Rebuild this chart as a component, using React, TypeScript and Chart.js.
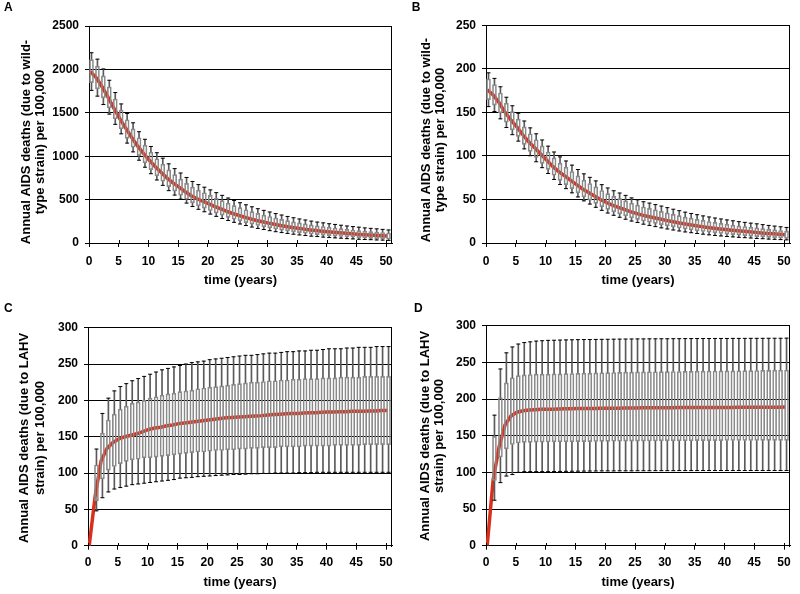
import React, { useEffect, useRef } from "react";
import { Chart, registerables } from "chart.js";

Chart.register(...registerables);

const FONT = "'Liberation Sans', Arial, Helvetica, sans-serif";

// ---------- shared data ----------
const YEARS = [0,1,2,3,4,5,6,7,8,9,10,11,12,13,14,15,16,17,18,19,20,21,22,23,24,25,26,27,28,29,30,31,32,33,34,35,36,37,38,39,40,41,42,43,44,45,46,47,48,49,50];
const X_TICKS = [0,5,10,15,20,25,30,35,40,45,50];
const X_MAX = 51;
const LINE_SHIFT = 0.2;
const BOX_SHIFT = 0.42;

// ---------- Panel A (wild-type, high) ----------
const A_Y_TICKS = [0,500,1000,1500,2000,2500];
const A_MEDIAN = [1975,1905,1800,1680,1550,1430,1320,1215,1115,1030,950,875,810,745,690,640,590,545,510,480,450,420,392,365,340,318,297,278,260,244,229,215,202,190,179,169,160,151,143,136,129,123,117,111,106,101,96,92,88,84,80];
const A_Q3 = [2113,2038,1926,1798,1659,1530,1420,1315,1213,1127,1045,971,907,842,787,736,687,642,608,579,549,517,488,458,431,407,383,361,341,322,305,288,272,257,244,232,220,209,198,190,181,173,165,157,150,143,137,131,126,121,115];
const A_Q1 = [1847,1775,1672,1556,1431,1316,1206,1103,1006,923,846,774,711,650,598,550,504,462,429,401,374,346,321,296,274,254,235,218,202,187,174,161,149,139,129,120,112,104,97,91,85,80,75,70,66,62,58,54,51,48,45];
const A_MAX = [2192,2118,2005,1875,1733,1602,1492,1385,1282,1195,1112,1040,977,912,857,806,755,709,673,643,612,580,549,518,490,464,440,417,395,376,357,339,322,306,291,277,265,252,241,232,222,214,205,196,189,182,174,169,163,157,150];
const A_MIN = [1758,1692,1595,1485,1367,1258,1151,1050,954,873,798,726,664,603,552,506,460,420,388,360,333,307,282,259,238,219,201,184,168,155,142,130,120,110,101,93,86,79,74,68,63,59,55,50,47,43,40,38,35,33,30];

// ---------- Panel B (wild-type, low) ----------
const B_Y_TICKS = [0,50,100,150,200,250];
const B_MEDIAN = [176,170,161,150,141,133,124,116,109,102,95,88,82,77,72,67,62,58,54,50,46.5,43.5,41,38.5,36,34,32,30.5,29,27.5,26,24.6,23.3,22,20.9,19.8,18.8,17.9,17,16.2,15.4,14.7,14,13.4,12.8,12.2,11.6,11,10.5,10,9.5];
const B_Q3 = [188.3,181.9,172.3,160.5,150.9,142.3,133.4,125.5,118.6,111.6,104.5,97.7,91.8,87,82.1,77.1,72.2,68.3,64.4,60.3,56.7,53.6,51,48.4,45.6,43.5,41.3,39.7,38,36.3,34.6,32.9,31.4,29.8,28.5,27.1,25.9,24.7,23.6,22.6,21.6,20.6,19.7,18.9,18.1,17.3,16.5,15.7,15,14.4,13.7];
const B_Q1 = [164.6,158.4,149.6,138.9,130.1,122.4,113.3,105.3,98.3,91.4,84.6,77.8,72,67.1,62.4,57.6,52.9,49.2,45.5,41.8,38.6,35.8,33.5,31.3,29,27.2,25.3,23.9,22.5,21.1,19.8,18.5,17.2,16.1,15,14.1,13.2,12.4,11.6,10.9,10.2,9.6,9,8.4,7.9,7.4,7,6.5,6.1,5.7,5.3];
const B_MAX = [195.4,189,179.4,167.4,157.6,149,140.1,132.2,125.4,118.3,111.2,104.5,98.9,94.2,89.4,84.4,79.4,75.4,71.3,67,63.2,60,57.4,54.7,51.8,49.6,47.4,45.8,44.1,42.4,40.6,38.8,37.1,35.4,33.9,32.5,31.1,29.9,28.7,27.6,26.5,25.5,24.5,23.7,22.8,22,21.1,20.2,19.4,18.6,17.9];
const B_MIN = [156.6,151,142.6,132.6,124.4,117,108.1,100.2,93.3,86.5,79.8,73,67.2,62.4,57.6,52.9,48.4,44.7,41,37.5,34.4,31.8,29.5,27.3,25.2,23.5,21.6,20.2,18.8,17.4,16.1,14.9,13.8,12.7,11.8,10.9,10.1,9.4,8.7,8.1,7.5,7,6.5,6.1,5.7,5.2,4.9,4.5,4.2,3.9,3.6];

// ---------- Panel C (LAHV) ----------
const C_Y_TICKS = [0,50,100,150,200,250,300];
const C_MEDIAN = [0,68,117,134,142,147,150,152,154,157,160,162,163,165,166,168,169,170,171,172,173,174,175,176,176.5,177,177.5,178,178.5,179,180,180.5,181,181.5,182,182,182.5,183,183,183.5,184,184,184.5,184.5,185,185,185,185.5,185.5,186,186];
const C_Q3 = [null,111,155,173,181,188,192,196,198,200,203,205,207,209,210,212,213,214,216,217,218,219,220,221,222,223,224,225,225,226,227,227,228,228,229,229,230,230,230,231,231,231,232,232,232,232,233,233,233,233,233];
const C_Q1 = [null,62,92,104,109,113,116,118,119,121,121,122,123,124,125,126,127,128,129,129,130,131,131,132,132,133,133,134,134,135,135,135,136,136,136,136,137,137,137,137,137,138,138,138,138,138,139,139,139,139,139];
const C_MAX = [null,133,182,203,213,219,223,227,230,233,236,239,242,244,246,248,250,252,253,254,256,257,258,259,260,261,262,262,263,264,265,265,266,267,267,268,268,269,269,270,271,271,271,272,272,273,273,273,274,274,274];
const C_MIN = [null,48,66,74,78,80,82,84,85,86,87,88,89,90,91,93,93.5,94,95,95.5,96,96.5,97,97.5,98,98,98.5,99,99,99.5,99.5,100,100,100,100,100.5,100.5,100.5,101,101,101,101,101,101,101,101,101,101,101,101,101];

// ---------- Panel D (LAHV) ----------
const D_Y_TICKS = [0,50,100,150,200,250,300];
const D_MEDIAN = [0,90,135,165,177,182,184,185,185.5,186,186,186.2,186.4,186.6,186.8,187,187,187.2,187.2,187.4,187.4,187.5,187.6,187.7,187.8,187.9,188,188,188,188.1,188.2,188.2,188.3,188.3,188.4,188.4,188.5,188.5,188.5,188.6,188.6,188.6,188.7,188.7,188.7,188.8,188.8,188.8,188.9,188.9,189];
const D_Q3 = [null,149,202,222,229,232,233,233.5,234,234,234,234.2,234.4,234.6,234.8,235,235.2,235.4,235.6,235.8,236,236.2,236.4,236.6,236.8,237,237,237.2,237.2,237.4,237.4,237.6,237.6,237.8,237.8,238,238,238.2,238.2,238.4,238.4,238.5,238.6,238.7,238.8,238.9,239,239,239.2,239.3,239.5];
const D_Q1 = [null,89,121,132,138,140,141,141,141.2,141.3,141.4,141.5,141.6,141.7,141.8,141.9,142,142,142.1,142.2,142.3,142.4,142.4,142.5,142.6,142.6,142.7,142.8,142.8,142.9,143,143,143,143.1,143.1,143.2,143.2,143.3,143.3,143.3,143.4,143.4,143.4,143.5,143.5,143.5,143.6,143.6,143.6,143.7,143.7];
const D_MAX = [null,178,241,263,271,275,277,278,279,279.5,280,280.2,280.4,280.6,280.8,281,281.1,281.2,281.3,281.4,281.5,281.6,281.7,281.8,281.9,282,282,282.1,282.1,282.2,282.2,282.3,282.3,282.4,282.4,282.5,282.5,282.5,282.6,282.6,282.6,282.7,282.7,282.7,282.8,282.8,282.8,282.9,282.9,282.9,283];
const D_MIN = [null,62,86,95,97,100,101,101,101,101,101,101.2,101.3,101.4,101.5,101.6,101.7,101.8,101.9,102,102,102,102.1,102.1,102.1,102.2,102.2,102.2,102.3,102.3,102.3,102.3,102.4,102.4,102.4,102.4,102.5,102.5,102.5,102.5,102.5,102.5,102.5,102.5,102.5,102.5,102.5,102.5,102.5,102.5,102.5];

const WT_TITLE = ["Annual AIDS deaths (due to wild-", "type strain) per 100,000"];
const LAHV_TITLE = ["Annual AIDS deaths (due to LAHV", "strain) per 100,000"];
const X_TITLE = "time (years)";

const RED = "#d9301c";
const BOX = "#8a8a8a";
const WHISK = "#5a5a5a";
const CW = 400;
const CH = 292;

type Num = number | null;
interface PanelDef {
  letter: string;
  letterX: number;
  letterY: number;
  yTicks: number[];
  yTitle: string[];
  median: number[];
  q1: Num[];
  q3: Num[];
  lo: Num[];
  hi: Num[];
  area: { left: number; top: number; right: number; bottom: number };
  titleX: [number, number];
  titleCY: number;
  xPad: number;
  pos: { left: number; top: number };
}

const PANELS: PanelDef[] = [
  { letter: "A", letterX: 4, letterY: 10.7, yTicks: A_Y_TICKS, yTitle: WT_TITLE, median: A_MEDIAN, q1: A_Q1, q3: A_Q3, lo: A_MIN, hi: A_MAX,
    area: { left: 89, top: 26, right: 392, bottom: 243 }, titleX: [26.7, 40.7], titleCY: 142, xPad: 7, pos: { left: 0, top: 0 } },
  { letter: "B", letterX: 11.7, letterY: 10.7, yTicks: B_Y_TICKS, yTitle: WT_TITLE, median: B_MEDIAN, q1: B_Q1, q3: B_Q3, lo: B_MIN, hi: B_MAX,
    area: { left: 86, top: 25.3, right: 390, bottom: 243 }, titleX: [26.7, 40.7], titleCY: 140, xPad: 7, pos: { left: 400, top: 0 } },
  { letter: "C", letterX: 4, letterY: 10.3, yTicks: C_Y_TICKS, yTitle: LAHV_TITLE, median: C_MEDIAN, q1: C_Q1, q3: C_Q3, lo: C_MIN, hi: C_MAX,
    area: { left: 88, top: 25.7, right: 392, bottom: 243.7 }, titleX: [24, 40], titleCY: 136, xPad: 6, pos: { left: 0, top: 302 } },
  { letter: "D", letterX: 14, letterY: 10.3, yTicks: D_Y_TICKS, yTitle: LAHV_TITLE, median: D_MEDIAN, q1: D_Q1, q3: D_Q3, lo: D_MIN, hi: D_MAX,
    area: { left: 86, top: 23.7, right: 390, bottom: 243.7 }, titleX: [25, 39.3], titleCY: 134, xPad: 6, pos: { left: 400, top: 302 } },
];

function buildChart(canvas: HTMLCanvasElement, p: PanelDef): Chart {
  const boxes: any[] = [];
  const lowW: any[] = [];
  const highW: any[] = [];
  const caps: any[] = [];
  YEARS.forEach((yr, i) => {
    const q1 = p.q1[i], q3 = p.q3[i], lo = p.lo[i], hi = p.hi[i];
    if (q1 == null || q3 == null || lo == null || hi == null) return;
    const x = yr + BOX_SHIFT;
    boxes.push({ x, y: [q1, q3] });
    lowW.push({ x, y: [lo, q1] });
    highW.push({ x, y: [q3, hi] });
    caps.push({ x, y: lo });
    caps.push({ x, y: hi });
  });
  const med = YEARS.map((yr, i) => ({ x: yr + LINE_SHIFT, y: p.median[i] }));
  const yMax = p.yTicks[p.yTicks.length - 1];

  const decor = {
    id: "decor" + p.letter,
    afterDraw(chart: any) {
      const ctx = chart.ctx as CanvasRenderingContext2D;
      const ca = chart.chartArea;
      ctx.save();
      // right frame line
      ctx.strokeStyle = "#000";
      ctx.lineWidth = 1;
      const rx = Math.round(ca.right) - 0.5;
      ctx.beginPath();
      ctx.moveTo(rx, Math.round(ca.top));
      ctx.lineTo(rx, Math.round(ca.bottom) + 1);
      ctx.stroke();
      // inner part of x tick marks
      const xs = chart.scales.x;
      const by = Math.round(ca.bottom);
      X_TICKS.forEach((v) => {
        const px = Math.round(xs.getPixelForValue(v)) + 0.5;
        ctx.beginPath();
        ctx.moveTo(px, by - 3);
        ctx.lineTo(px, by);
        ctx.stroke();
      });
      // panel letter
      ctx.fillStyle = "#000";
      ctx.font = `bold 12px ${FONT}`;
      ctx.textAlign = "left";
      ctx.textBaseline = "alphabetic";
      ctx.fillText(p.letter, p.letterX, p.letterY);
      // y title (two rotated lines)
      ctx.font = `bold 13px ${FONT}`;
      ctx.textAlign = "center";
      ctx.textBaseline = "middle";
      p.yTitle.forEach((line, k) => {
        ctx.save();
        ctx.translate(p.titleX[k], p.titleCY);
        ctx.rotate(-Math.PI / 2);
        ctx.fillText(line, 0, 0);
        ctx.restore();
      });
      ctx.restore();
    },
  };

  return new Chart(canvas, {
    type: "bar",
    data: {
      datasets: [
        {
          type: "line",
          data: med,
          borderColor: RED,
          borderWidth: 3.5,
          pointRadius: 0,
          pointHoverRadius: 0,
          tension: 0,
          fill: false,
          order: 5,
        } as any,
        {
          type: "bar",
          data: lowW,
          backgroundColor: WHISK,
          borderWidth: 0,
          barThickness: 1,
          grouped: false,
          order: 3,
        } as any,
        {
          type: "bar",
          data: highW,
          backgroundColor: WHISK,
          borderWidth: 0,
          barThickness: 1,
          grouped: false,
          order: 3,
        } as any,
        {
          type: "bar",
          data: boxes,
          backgroundColor: "rgba(255,255,255,0)",
          borderColor: BOX,
          borderWidth: 1,
          borderSkipped: false,
          barThickness: 4,
          grouped: false,
          order: 2,
        } as any,
        {
          type: "line",
          data: caps,
          showLine: false,
          pointStyle: "line",
          pointRadius: 2,
          pointHoverRadius: 2,
          pointBorderWidth: 1,
          pointBorderColor: "#000",
          pointBackgroundColor: "#000",
          order: 1,
        } as any,
      ],
    },
    options: {
      responsive: false,
      animation: false,
      events: [],
      layout: { padding: { left: 0, top: p.area.top, right: CW - p.area.right, bottom: 0 } },
      plugins: { legend: { display: false }, tooltip: { enabled: false }, title: { display: false } },
      scales: {
        x: {
          type: "linear",
          min: 0,
          max: X_MAX,
          offset: false,
          afterBuildTicks: (s: any) => {
            s.ticks = X_TICKS.map((v) => ({ value: v }));
          },
          afterFit: (s: any) => {
            s.height = CH - p.area.bottom;
          },
          grid: { display: true, drawOnChartArea: false, drawTicks: true, tickLength: 4, color: "#000", offset: false },
          border: { display: true, color: "#000", width: 1 },
          ticks: {
            autoSkip: false,
            maxRotation: 0,
            padding: p.xPad,
            color: "#000",
            font: { family: FONT, size: 12, weight: "bold" },
            callback: (v: any) => String(v),
          },
          title: {
            display: true,
            text: X_TITLE,
            color: "#000",
            font: { family: FONT, size: 13, weight: "bold" },
            padding: { top: 0, bottom: 4 },
          },
        } as any,
        y: {
          type: "linear",
          min: 0,
          max: yMax,
          afterBuildTicks: (s: any) => {
            s.ticks = p.yTicks.map((v) => ({ value: v }));
          },
          afterFit: (s: any) => {
            s.width = p.area.left;
          },
          grid: { display: true, drawOnChartArea: true, drawTicks: true, tickLength: 4, color: "#000", lineWidth: 1 },
          border: { display: true, color: "#000", width: 1 },
          ticks: {
            padding: 6,
            color: "#000",
            font: { family: FONT, size: 12, weight: "bold" },
            callback: (v: any) => String(v),
          },
          title: { display: false },
        } as any,
      },
    },
    plugins: [decor],
  } as any);
}

function Panel({ def }: { def: PanelDef }) {
  const ref = useRef<HTMLCanvasElement | null>(null);
  useEffect(() => {
    if (!ref.current) return;
    const chart = buildChart(ref.current, def);
    return () => chart.destroy();
  }, [def]);
  return (
    <canvas
      ref={ref}
      width={CW}
      height={CH}
      style={{ position: "absolute", left: def.pos.left, top: def.pos.top, width: CW, height: CH }}
    />
  );
}

export default function App() {
  return (
    <div style={{ position: "fixed", left: 0, top: 0, width: 800, height: 594, background: "#fff", overflow: "hidden" }}>
      {PANELS.map((p) => (
        <Panel key={p.letter} def={p} />
      ))}
    </div>
  );
}
